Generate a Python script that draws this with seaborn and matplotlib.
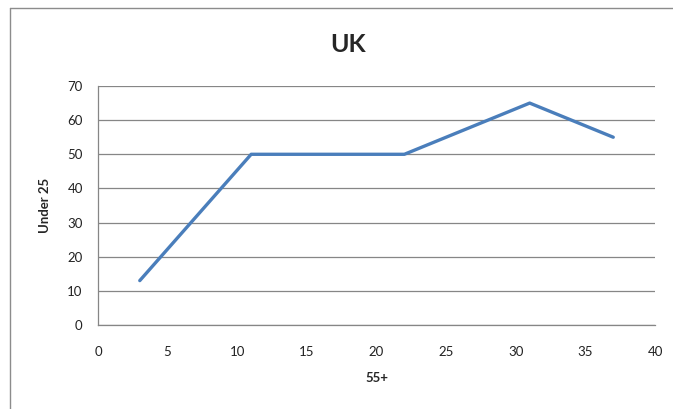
import pandas as pd
import seaborn as sns
import matplotlib.pyplot as plt
from matplotlib.lines import Line2D

# values
age_55_plus = [3, 11, 22, 31, 37]
under_25 = [13, 50, 50, 65, 55]

x_ticks = [0, 5, 10, 15, 20, 25, 30, 35, 40]
y_ticks = [0, 10, 20, 30, 40, 50, 60, 70]

df = pd.DataFrame({"55+": age_55_plus, "Under 25": under_25})

sns.set_style("white")
plt.rcParams['font.family'] = ['Lato', 'DejaVu Sans']

fig = plt.figure(figsize=(6.73, 4.09), dpi=100)
ax = fig.add_axes([0.1456, 0.2054, 0.9733 - 0.1456, 0.7897 - 0.2054])

sns.lineplot(data=df, x="55+", y="Under 25", ax=ax, color="#4A7EBB",
             linewidth=2.4, sort=False)

ax.set_xlim(0, 40)
ax.set_ylim(0, 70)
ax.set_xticks(x_ticks)
ax.set_yticks(y_ticks)
ax.grid(axis="y", color="#868686", linewidth=0.9)
ax.set_axisbelow(True)
for side in ["top", "right"]:
    ax.spines[side].set_visible(False)
for side in ["left", "bottom"]:
    ax.spines[side].set_color("#868686")
    ax.spines[side].set_linewidth(0.9)
ax.tick_params(axis="both", direction="out", length=5, width=0.9,
               color="#868686", labelsize=9.5, labelcolor="#222222", pad=6)
ax.tick_params(axis="x", pad=10)

ax.set_xlabel("55+", fontsize=9.5, fontweight="bold", labelpad=10)
ax.set_ylabel("Under 25", fontsize=9.5, fontweight="bold", labelpad=12)
fig.text(348 / 673, 1 - 45 / 409, "UK", fontsize=18, fontweight="bold",
         ha="center", va="center")

# chart frame (cropped on the right and bottom in the original)
fig.add_artist(Line2D([10 / 673, 10 / 673], [0, 1 - 8 / 409],
                      color="#8c8c8c", linewidth=1, transform=fig.transFigure))
fig.add_artist(Line2D([10 / 673, 1], [1 - 8 / 409, 1 - 8 / 409],
                      color="#8c8c8c", linewidth=1, transform=fig.transFigure))

fig.savefig("out.png", dpi=100)
